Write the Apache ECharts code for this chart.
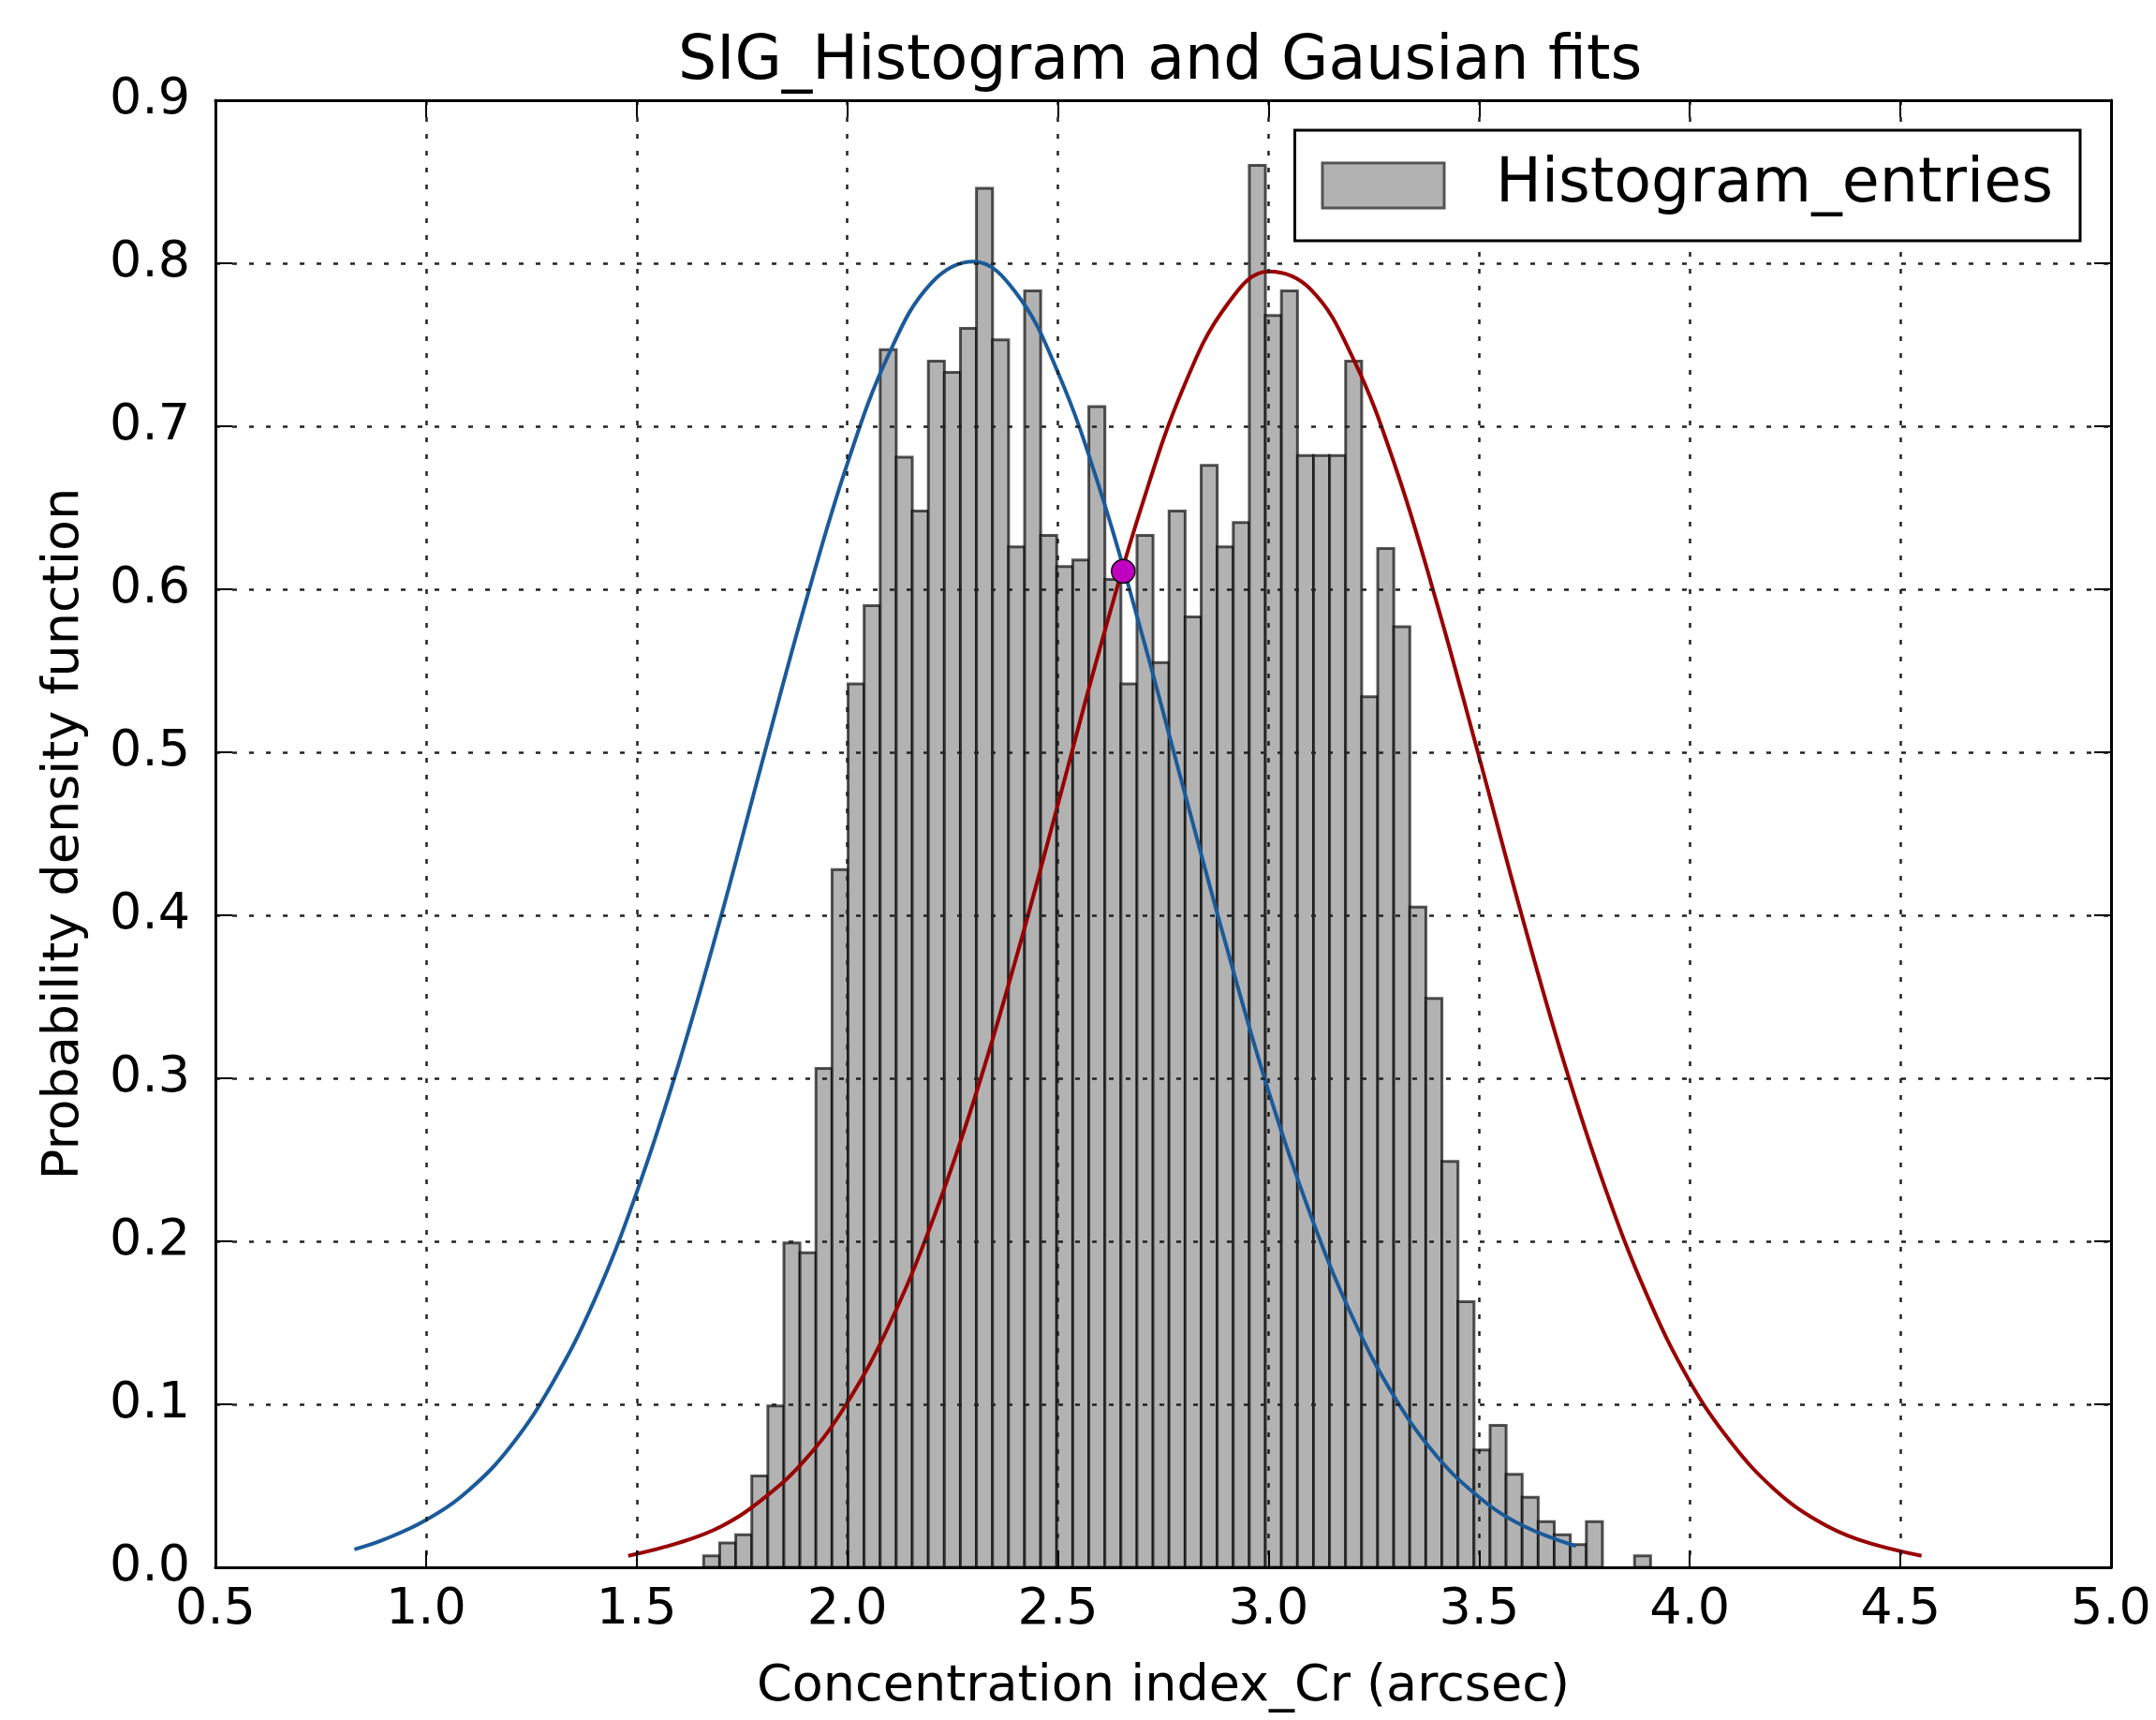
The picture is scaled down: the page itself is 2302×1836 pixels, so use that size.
<!DOCTYPE html>
<html>
<head>
<meta charset="utf-8">
<script src="https://cdn.jsdelivr.net/npm/echarts@6/dist/echarts.min.js"></script>
<style>
  html, body { margin: 0; padding: 0; background: #fff; }
  #chart { width: 2302px; height: 1836px; }
</style>
</head>
<body>
<div id="chart"></div>
<script>
// histogram bins
const binStart = 1.659;
const binWidth = 0.0381;
const binHeights = [
  0.007, 0.015, 0.020, 0.056, 0.099, 0.199, 0.193, 0.306, 0.428, 0.542,
  0.590, 0.747, 0.681, 0.648, 0.740, 0.733, 0.760, 0.846, 0.753, 0.626,
  0.783, 0.633, 0.614, 0.618, 0.712, 0.606, 0.542, 0.633, 0.555, 0.648,
  0.583, 0.676, 0.626, 0.641, 0.860, 0.768, 0.783, 0.682, 0.682, 0.682,
  0.740, 0.534, 0.625, 0.577, 0.405, 0.349, 0.249, 0.163, 0.072, 0.087,
  0.057, 0.043, 0.028, 0.020, 0.014, 0.028, 0, 0, 0.007
];

// fitted curves, points
const blueX = [0.83, 0.9, 1.0, 1.1, 1.2, 1.3, 1.4, 1.5, 1.6, 1.7, 1.8, 1.9, 2.0, 2.1, 2.2, 2.3,
  2.4, 2.5, 2.6, 2.7, 2.8, 2.9, 3.0, 3.1, 3.2, 3.3, 3.4, 3.5, 3.6, 3.73];
const blueY = [0.011, 0.017, 0.029, 0.047, 0.074, 0.113, 0.164, 0.230, 0.309, 0.399, 0.496, 0.591, 0.677, 0.745, 0.788, 0.801,
  0.782, 0.733, 0.661, 0.572, 0.476, 0.381, 0.292, 0.216, 0.153, 0.104, 0.068, 0.043, 0.026, 0.013];

const redX = [1.48, 1.6, 1.7, 1.8, 1.9, 2.0, 2.1, 2.2, 2.3, 2.4, 2.5, 2.6, 2.7, 2.8, 2.9, 3.0,
  3.1, 3.2, 3.3, 3.4, 3.5, 3.6, 3.7, 3.8, 3.9, 4.0, 4.1, 4.2, 4.3, 4.4, 4.55];
const redY = [0.007, 0.015, 0.025, 0.042, 0.066, 0.101, 0.149, 0.211, 0.286, 0.373, 0.468, 0.564, 0.652, 0.725, 0.774, 0.795,
  0.784, 0.742, 0.676, 0.591, 0.497, 0.401, 0.311, 0.232, 0.166, 0.114, 0.076, 0.048, 0.029, 0.017, 0.007];

const crossPoint = [2.655, 0.611];

const xTicks = { min: 0.5, max: 5.0, step: 0.5 };
const yTicks = { min: 0.0, max: 0.9, step: 0.1 };

const FONT = 'DejaVu Sans';

const bars = [];
binHeights.forEach((h, i) => {
  if (h > 0) bars.push([binStart + i * binWidth, binStart + (i + 1) * binWidth, h]);
});
const blueData = blueX.map((x, i) => [x, blueY[i]]);
const redData = redX.map((x, i) => [x, redY[i]]);

const chart = echarts.init(document.getElementById('chart'), null, { renderer: 'canvas' });

const tickLine = { show: true, inside: true, length: 18, lineStyle: { color: '#000', width: 2 } };
const frameLine = { show: true, onZero: false, lineStyle: { color: '#000', width: 3 } };
const gridDash = { show: true, lineStyle: { color: '#222', width: 2.5, type: [5, 13] } };

const option = {
  animation: false,
  backgroundColor: '#fff',
  title: {
    text: 'SIG_Histogram and Gausian fits',
    left: 719,
    top: 23,
    textStyle: { fontFamily: FONT, fontSize: 65, fontWeight: 'normal', color: '#000', lineHeight: 78 }
  },
  legend: {
    data: ['Histogram_entries'],
    right: 81,
    top: 139,
    z: 20,
    icon: 'rect',
    itemWidth: 130,
    itemHeight: 48,
    padding: [20, 29, 20, 28],
    backgroundColor: '#fff',
    borderColor: '#000',
    borderWidth: 3,
    borderRadius: 0,
    itemStyle: { color: '#b2b2b2', borderColor: '#555', borderWidth: 3 },
    textStyle: { fontFamily: FONT, fontSize: 65, color: '#000', lineHeight: 78, padding: [0, 0, 0, 50] }
  },
  grid: { left: 230, top: 107, right: 48, bottom: 161 },
  xAxis: [
    {
      type: 'value', min: xTicks.min, max: xTicks.max, interval: xTicks.step, z: 10,
      name: 'Concentration index_Cr (arcsec)', nameLocation: 'middle', nameGap: 98,
      nameTextStyle: { fontFamily: FONT, fontSize: 54, color: '#000', lineHeight: 60 },
      axisLine: frameLine, axisTick: tickLine, splitLine: gridDash,
      axisLabel: { fontFamily: FONT, fontSize: 54, color: '#000', margin: 16, lineHeight: 60,
        showMinLabel: true, showMaxLabel: true, formatter: v => v.toFixed(1) }
    },
    {
      type: 'value', position: 'top', min: xTicks.min, max: xTicks.max, interval: xTicks.step, z: 10,
      axisLine: frameLine, axisTick: tickLine, splitLine: { show: false }, axisLabel: { show: false }
    }
  ],
  yAxis: [
    {
      type: 'value', min: yTicks.min, max: yTicks.max, interval: yTicks.step, z: 10,
      name: 'Probability density function', nameLocation: 'middle', nameGap: 131,
      nameTextStyle: { fontFamily: FONT, fontSize: 54, color: '#000', lineHeight: 60 },
      axisLine: frameLine, axisTick: tickLine, splitLine: gridDash,
      axisLabel: { fontFamily: FONT, fontSize: 54, color: '#000', margin: 27,
        showMinLabel: true, showMaxLabel: true, formatter: v => v.toFixed(1) }
    },
    {
      type: 'value', position: 'right', min: yTicks.min, max: yTicks.max, interval: yTicks.step, z: 10,
      axisLine: frameLine, axisTick: tickLine, splitLine: { show: false }, axisLabel: { show: false }
    }
  ],
  series: [
    {
      name: 'Histogram_entries',
      type: 'custom',
      z: 2,
      itemStyle: { color: '#b2b2b2', borderColor: '#555', borderWidth: 3 },
      encode: { x: [0, 1], y: 2 },
      data: bars,
      renderItem: function (params, api) {
        const top = api.coord([api.value(0), api.value(2)]);
        const base = api.coord([api.value(1), 0]);
        return {
          type: 'rect',
          shape: { x: top[0], y: top[1], width: base[0] - top[0], height: base[1] - top[1] },
          style: { fill: '#b2b2b2', stroke: 'rgba(0,0,0,0.66)', lineWidth: 3 }
        };
      }
    },
    {
      name: 'fit1',
      type: 'line',
      z: 3,
      smooth: 0.4,
      showSymbol: false,
      data: blueData,
      lineStyle: { color: '#1b5a9a', width: 4 }
    },
    {
      name: 'fit2',
      type: 'line',
      z: 3,
      smooth: 0.4,
      showSymbol: false,
      data: redData,
      lineStyle: { color: '#990000', width: 4 }
    },
    {
      name: 'cross',
      type: 'scatter',
      z: 12,
      symbolSize: 25,
      data: [crossPoint],
      itemStyle: { color: '#c000c0', borderColor: '#000', borderWidth: 1.5, opacity: 1 }
    }
  ]
};

chart.setOption(option);
</script>
</body>
</html>
